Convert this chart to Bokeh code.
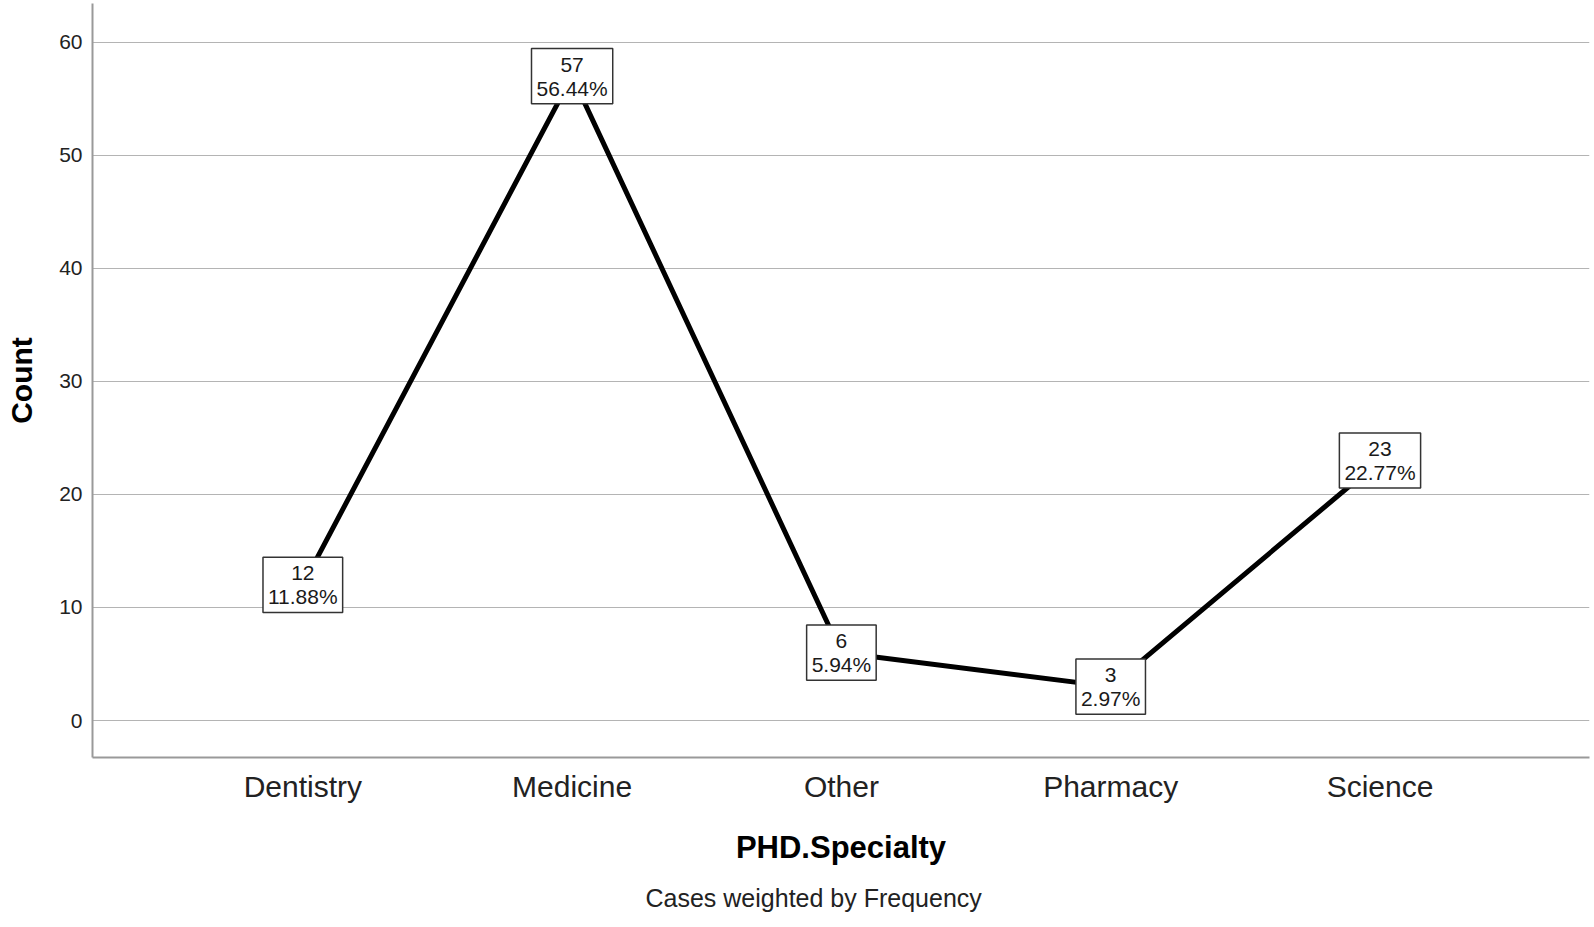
from bokeh.plotting import figure
from bokeh.models import Range1d, FixedTicker, Title, ColumnDataSource
from bokeh.core.properties import value
from bokeh.embed import file_html
from bokeh.resources import INLINE

categories = ["Dentistry", "Medicine", "Other", "Pharmacy", "Science"]
counts = [12, 57, 6, 3, 23]
percents = ["11.88%", "56.44%", "5.94%", "2.97%", "22.77%"]
y_ticks = [0, 10, 20, 30, 40, 50, 60]

FONT = "Liberation Sans"

xs = list(range(len(categories)))
labels = [f"{c}\n{p}" for c, p in zip(counts, percents)]
src = ColumnDataSource(dict(x=xs, y=counts, label=labels))

p = figure(width=1594, height=927, output_backend="svg", toolbar_location=None,
           x_range=Range1d(-0.781, 4.778), y_range=Range1d(-3.27, 63.42),
           min_border_left=92, min_border_right=5, min_border_top=3,
           min_border_bottom=170)
p.outline_line_color = None
p.background_fill_color = "white"
p.border_fill_color = "white"

p.line("x", "y", source=src, line_color="black", line_width=5)
p.text("x", "y", text="label", source=src, text_align="center", text_baseline="middle",
       text_font=value(FONT), text_font_size="21px", text_color="#1a1a1a",
       text_line_height=1.05, background_fill_color="white",
       border_line_color="#333333", border_line_width=1.5, padding=dict(x=5, y=4))

# grid
p.xgrid.grid_line_color = None
p.ygrid.grid_line_color = "#b4b4b4"
p.ygrid.grid_line_width = 1
p.ygrid.ticker = FixedTicker(ticks=y_ticks)

# y axis
p.yaxis.ticker = FixedTicker(ticks=y_ticks)
p.yaxis.axis_label = "Count"
p.yaxis.axis_label_text_font = FONT
p.yaxis.axis_label_text_font_style = "bold"
p.yaxis.axis_label_text_font_size = "30px"
p.yaxis.axis_label_text_color = "black"
p.yaxis.axis_label_standoff = 18
p.yaxis.major_label_text_font = FONT
p.yaxis.major_label_text_font_size = "21px"
p.yaxis.major_label_text_color = "#222222"
p.yaxis.major_label_standoff = 10
p.yaxis.major_tick_in = 0
p.yaxis.major_tick_out = 0
p.yaxis.minor_tick_in = 0
p.yaxis.minor_tick_out = 0
p.yaxis.axis_line_color = "#999999"
p.yaxis.axis_line_width = 2

# x axis
p.xaxis.ticker = FixedTicker(ticks=xs)
p.xaxis.major_label_overrides = {i: c for i, c in enumerate(categories)}
p.xaxis.axis_label = "PHD.Specialty"
p.xaxis.axis_label_text_font = FONT
p.xaxis.axis_label_text_font_style = "bold"
p.xaxis.axis_label_text_font_size = "31px"
p.xaxis.axis_label_text_color = "black"
p.xaxis.axis_label_standoff = 24
p.xaxis.major_label_text_font = FONT
p.xaxis.major_label_text_font_size = "30px"
p.xaxis.major_label_text_color = "#222222"
p.xaxis.major_label_standoff = 12
p.xaxis.major_tick_in = 0
p.xaxis.major_tick_out = 0
p.xaxis.minor_tick_in = 0
p.xaxis.minor_tick_out = 0
p.xaxis.axis_line_color = "#999999"
p.xaxis.axis_line_width = 2

footer = Title(text="Cases weighted by Frequency", align="left", offset=553,
               text_font=FONT, text_font_size="25px", text_font_style="normal",
               text_color="#222222", standoff=29)
p.add_layout(footer, "below")

open("out.html", "w").write(file_html(p, INLINE))
